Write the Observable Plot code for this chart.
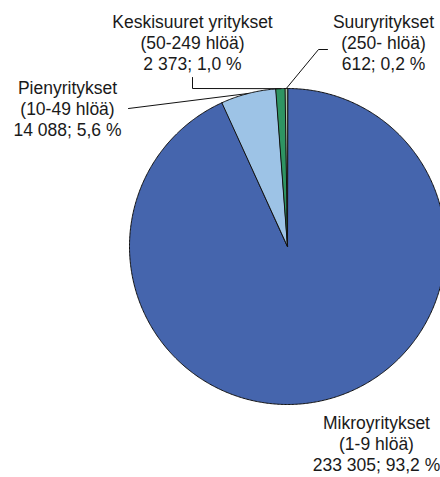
<!DOCTYPE html>
<html><head><meta charset="utf-8">
<script src="https://cdn.jsdelivr.net/npm/d3@7"></script>
<script src="https://cdn.jsdelivr.net/npm/@observablehq/plot@0.6"></script>
<style>html,body{margin:0;padding:0;background:#fff}</style>
</head><body><div id="chart"></div>
<script>
// ---- data ----
const categories = ["Mikroyritykset", "Pienyritykset", "Keskisuuret yritykset", "Suuryritykset"];
const sizeBands = ["(1-9 hlöä)", "(10-49 hlöä)", "(50-249 hlöä)", "(250- hlöä)"];
const counts = [233305, 14088, 2373, 612];
const shares = [93.2, 5.6, 1.0, 0.2];
const colors = ["#4565ad", "#9dc3e6", "#2e9462", "#a9c3a4"];

// ---- layout (pixels relative to pie centre, y up) ----
const W = 440, H = 477, CX = 287, CY = 246, R = 158;
const labelPos = {
  "Mikroyritykset": [89, -197],
  "Pienyritykset": [-220, 138],
  "Keskisuuret yritykset": [-95, 204],
  "Suuryritykset": [96, 204]
};
const leaderPath = {
  "Pienyritykset": [[-159, 138]],
  "Keskisuuret yritykset": [[-95, 158], [-95, 169]],
  "Suuryritykset": [[31, 197], [40, 197]]
};

const fi = d3.formatLocale({decimal: ",", thousands: " ", grouping: [3], currency: ["", " €"]});
const fmtInt = fi.format(",d");
const fmtPct = fi.format(".1f");

const arcs = d3.pie().sort(null).value(d => d)(counts);
const slicePts = [];
arcs.forEach((a, i) => {
  const n = Math.max(2, Math.ceil((a.endAngle - a.startAngle) / (Math.PI / 360)));
  slicePts.push({name: categories[i], x: 0, y: 0});
  for (let k = 0; k <= n; k++) {
    const t = a.startAngle + (a.endAngle - a.startAngle) * k / n;
    slicePts.push({name: categories[i], x: R * Math.sin(t), y: R * Math.cos(t)});
  }
});

const labels = categories.map((c, i) => ({
  name: c,
  x: labelPos[c][0], y: labelPos[c][1],
  text: `${c}\n${sizeBands[i]}\n${fmtInt(counts[i])}; ${fmtPct(shares[i])} %`
}));

const leaderPts = [];
arcs.forEach((a, i) => {
  const c = categories[i];
  if (!leaderPath[c]) return;
  const m = (a.startAngle + a.endAngle) / 2;
  leaderPts.push({name: c, x: R * Math.sin(m), y: R * Math.cos(m)});
  leaderPath[c].forEach(p => leaderPts.push({name: c, x: p[0], y: p[1]}));
});

const chart = Plot.plot({
  width: W, height: H,
  margin: 0,
  style: {fontFamily: "'Liberation Sans', Arial, sans-serif", background: "#fff", overflow: "visible"},
  x: {domain: [-CX, W - CX], range: [0, W], axis: null},
  y: {domain: [CY - H, CY], range: [H, 0], axis: null},
  color: {domain: categories, range: colors},
  marks: [
    Plot.line(slicePts, {x: "x", y: "y", z: "name", fill: "name", stroke: "#111", strokeWidth: 1, curve: "linear-closed", strokeLinejoin: "round"}),
    Plot.line(leaderPts, {x: "x", y: "y", z: "name", stroke: "#111", strokeWidth: 1}),
    Plot.text(labels, {x: "x", y: "y", text: "text", fontSize: 17.5, lineHeight: 1.2, fill: "#1a1a1a"})
  ]
});
document.getElementById("chart").appendChild(chart);
</script>
</body></html>
